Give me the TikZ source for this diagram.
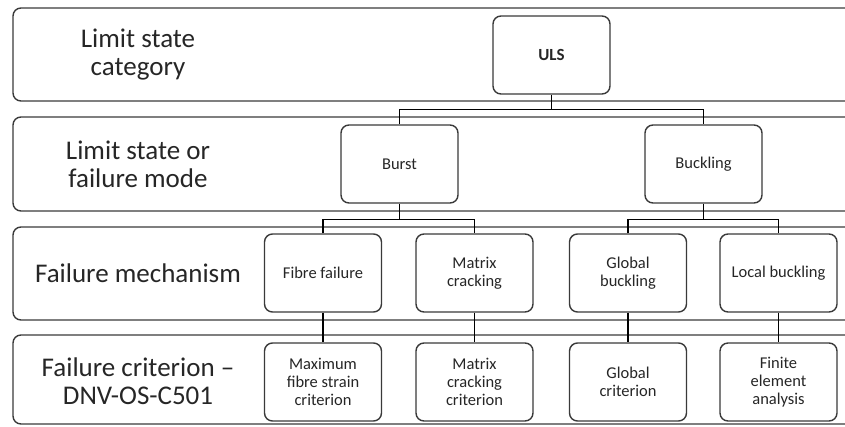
\documentclass[tikz,border=0pt]{standalone}
\usepackage{fontspec}
\setmainfont{Carlito}
\usepackage{tikz}
\usetikzlibrary{calc}

\definecolor{linegray}{HTML}{3A3A3A}
\definecolor{textgray}{HTML}{262626}

\tikzset{
    band/.style={draw=linegray, line width=1.4pt, rounded corners=8pt},
    rowlabel/.style={text=textgray, align=center, font=\fontsize{27}{28}\selectfont},
    box/.style={draw=linegray, line width=1.4pt, rounded corners=8pt, fill=white,
        minimum width=117pt, minimum height=78pt, inner sep=2pt,
        text=textgray, align=center, font=\fontsize{16.5}{18}\selectfont},
    conn/.style={draw=black, line width=1.1pt}
}

\begin{document}
\begin{tikzpicture}[x=1pt, y=-1pt]
        % Fix the page size
        \useasboundingbox (0,0) rectangle (845,426);
        \clip (0,0) rectangle (845,426);
        
        % Draw the four row bands
        \draw[band] (13,8) rectangle (870,101);
        \draw[band] (13,117) rectangle (870,211);
        \draw[band] (13,227) rectangle (870,320);
        \draw[band] (13,335) rectangle (870,424);
        
        % Label the rows
        \node[rowlabel] (lcat) at (138,55) {Limit state\\category};
        \node[rowlabel] (lmode) at (138,164) {Limit state or\\failure mode};
        \node[rowlabel] (lmech) at (138,273) {Failure mechanism};
        \node[rowlabel] (lcrit) at (138,381) {Failure criterion –\\DNV-OS-C501};
        
        % Draw the boxes
        \node[box, font=\fontsize{17}{18}\selectfont\bfseries] (uls) at (551.5,55) {ULS};
        
        \node[box] (burst) at (399.5,164) {Burst};
        \node[box] (buckling) at (703.5,164) {Buckling};
        
        \node[box] (fibre) at (323,273) {Fibre failure};
        \node[box] (matrix) at (474.5,273) {Matrix\\cracking};
        \node[box] (global) at (628,273) {Global\\buckling};
        \node[box] (local) at (778.5,273) {Local buckling};
        
        \node[box] (maxstrain) at (323,382) {Maximum\\fibre strain\\criterion};
        \node[box] (matcrit) at (474.5,382) {Matrix\\cracking\\criterion};
        \node[box] (globcrit) at (628,382) {Global\\criterion};
        \node[box] (fea) at (778.5,382) {Finite\\element\\analysis};
        
        % Draw the connectors
        \coordinate (j1) at ($(uls.south)+(0,15)$);
        \coordinate (j2) at ($(burst.south)+(0,16)$);
        \coordinate (j3) at ($(buckling.south)+(0,16)$);
        
        \draw[conn] (uls.south) -- (j1);
        \draw[conn] (burst.north) |- (j1) -| (buckling.north);
        
        \draw[conn] (burst.south) -- (j2);
        \draw[conn] (fibre.north) |- (j2) -| (matrix.north);
        \draw[conn] (buckling.south) -- (j3);
        \draw[conn] (global.north) |- (j3) -| (local.north);
        
        \draw[conn] (fibre) -- (maxstrain);
        \draw[conn] (matrix) -- (matcrit);
        \draw[conn] (global) -- (globcrit);
        \draw[conn] (local) -- (fea);
        
    \end{tikzpicture}
\end{document}
